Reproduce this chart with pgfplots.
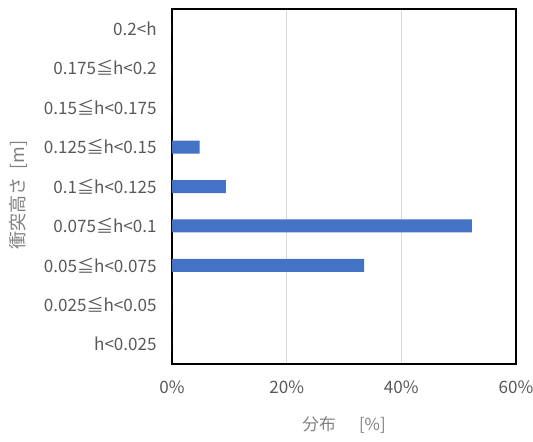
\documentclass[border=0pt]{standalone}
\usepackage{pgfplots}
\pgfplotsset{compat=1.18}
\usepackage{fontspec}
\setmainfont{Noto Sans CJK JP}
\definecolor{barblue}{HTML}{4472C4}
\definecolor{tickgray}{HTML}{595959}
\definecolor{labgray}{HTML}{808080}
\definecolor{gridgray}{HTML}{D9D9D9}
\begin{document}
\begin{tikzpicture}[x=0.75pt,y=0.75pt]
\path[use as bounding box] (-172,-78) rectangle (361,364);
\begin{axis}[
  at={(0,0)}, anchor=south west,
  scale only axis,
  width=258pt, height=266.25pt,
  xbar, bar width=9.75pt,
  xmin=0, xmax=60,
  ymin=-0.5, ymax=8.5,
  xtick={0,20,40,60},
  xticklabel={\pgfmathprintnumber{\tick}\%},
  /pgf/number format/assume math mode=true,
  ytick={0,...,8},
  yticklabels={h<0.025, 0.025≦h<0.05, 0.05≦h<0.075, 0.075≦h<0.1, 0.1≦h<0.125, 0.125≦h<0.15, 0.15≦h<0.175, 0.175≦h<0.2, 0.2<h},
  major tick length=0pt,
  xmajorgrids, grid style={gridgray, line width=0.75pt},
  axis line style={black, line width=1.2pt},
  ticklabel style={font=\fontsize{12.8}{14}\selectfont, text=tickgray},
  xticklabel style={yshift=-9pt},
  yticklabel style={xshift=-8pt},
  xlabel={分布\hspace{1.4em}[\%]},
  ylabel={衝突高さ\hspace{0.45em}[m]},
  label style={font=\fontsize{12.5}{14}\selectfont, text=labgray},
  xlabel style={at={(axis description cs:0.5,-0.172)}, anchor=center},
  ylabel style={at={(axis description cs:-0.445,0.475)}, anchor=center, font=\fontsize{13.5}{15}\selectfont},
]
\addplot[fill=barblue, draw=none] coordinates {
 (0,0) (0,1) (33.5,2) (52.3,3) (9.4,4) (4.8,5) (0,6) (0,7) (0,8)
};
\end{axis}
\end{tikzpicture}
\end{document}
